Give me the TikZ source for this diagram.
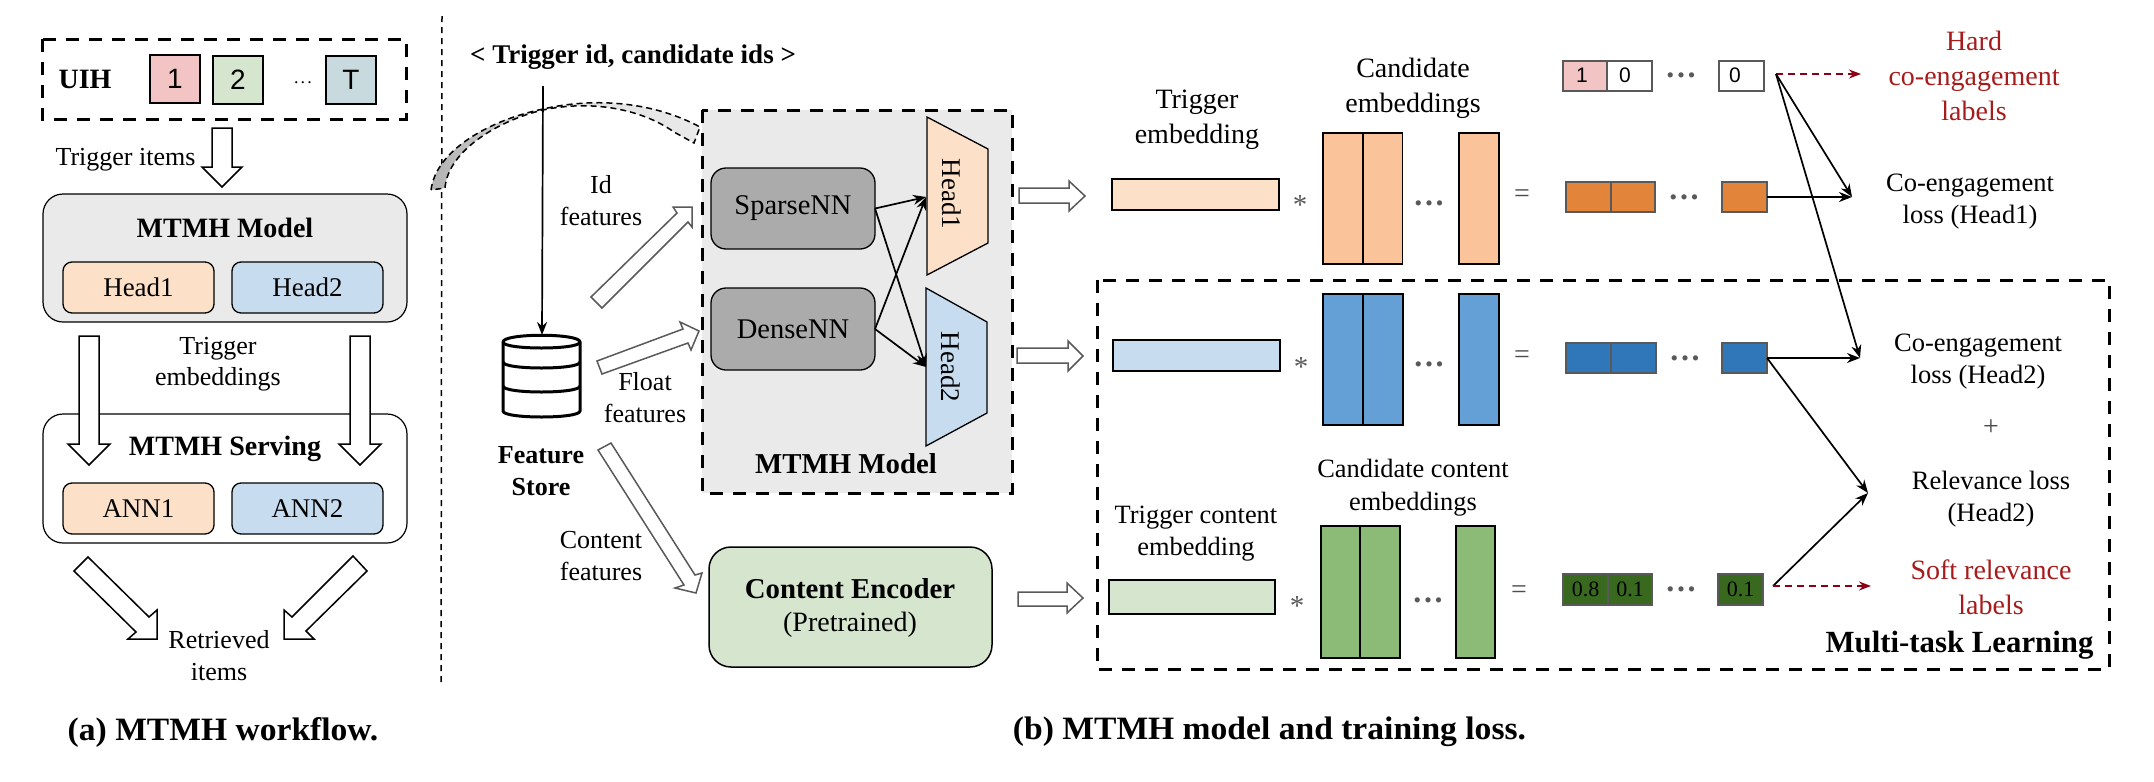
\documentclass[tikz,border=0pt]{standalone}
\usepackage{fontspec}
\setmainfont{Liberation Serif}
\newfontfamily\sansf{Liberation Sans}
\newfontfamily\capf[FakeStretch=1.03]{Liberation Serif}
\usetikzlibrary{arrows.meta,shapes.geometric}
\definecolor{peach}{HTML}{FCE0C8}
\definecolor{lblue}{HTML}{C8DCF0}
\definecolor{lgreen}{HTML}{D5E5CE}
\definecolor{panel}{HTML}{EAEAEA}
\definecolor{nngray}{HTML}{ABABAB}
\definecolor{cpeach}{HTML}{FBC399}
\definecolor{cblue}{HTML}{649FD6}
\definecolor{cgreen}{HTML}{8BBB76}
\definecolor{rorange}{HTML}{E2853B}
\definecolor{rblue}{HTML}{2F77B8}
\definecolor{rgreen}{HTML}{38691F}
\definecolor{lpink}{HTML}{F2C4C4}
\definecolor{lteal}{HTML}{C9DADF}
\definecolor{edge}{HTML}{595959}
\definecolor{redtxt}{HTML}{A61C1C}
\definecolor{redarrow}{HTML}{8B0012}
\newcommand{\fs}[2]{\fontsize{#1pt}{#2pt}\selectfont}
% \cell{name}{x1}{y1}{x2}{y2}{style}{text}
\newcommand{\cell}[7]{\node[#6,minimum width={(#4-#2)*0.5pt},minimum height={(#5-#3)*0.5pt}] (#1) at ({(#2+#4)/2},{(#3+#5)/2}) {#7};}
\newcommand{\threedots}{\textcolor{edge}{\bfseries\fs{16}{16}.\kern1.35pt.\kern1.35pt.}}
\tikzset{
  x=0.5pt,y=-0.5pt,
  every node/.style={inner sep=0pt,outer sep=0pt,align=center},
  bigdash/.style={draw=black,line width=1.5pt,dash pattern=on 6.5pt off 5pt},
  thinline/.style={draw=black,line width=0.85pt,-{Stealth[length=6.5pt,width=5pt]}},
  reddash/.style={draw=redarrow,line width=0.8pt,dash pattern=on 3.5pt off 2.5pt,-{Stealth[length=6pt,width=4.5pt]}},
  blockb/.style={draw=black,fill=white,line width=0.75pt,line join=miter},
  blockg/.style={draw=edge,fill=white,line width=0.75pt,line join=miter},
  model/.style={draw=black,line width=0.6pt,rounded corners=10pt},
  tag/.style={draw=black,line width=0.65pt,rounded corners=4.5pt},
  nn/.style={draw=black,line width=0.65pt,rounded corners=7.5pt,fill=nngray},
  emb/.style={draw=black,line width=0.9pt},
  col/.style={draw=black,line width=0.8pt},
  res/.style={draw=edge,line width=0.8pt},
  lab/.style={font=\fs{13}{16}},
  labb/.style={font=\fs{14}{17.5}},
  boldl/.style={font=\bfseries\fs{14}{16}},
  redl/.style={text=redtxt,font=\fs{14}{17.5}},
  num/.style={font=\sansf\fs{10.5}{12}},
  startext/.style={text=edge,font=\fs{14.5}{14.5}},
  eqtext/.style={text=black!70,font=\fs{14}{14}},
}
\begin{document}
\begin{tikzpicture}
\useasboundingbox (0,0) rectangle (2154,782);
% divider
\coordinate (divtop) at (442,16);
\coordinate (divbot) at (441,684);
\draw[line width=0.75pt,dash pattern=on 3pt off 2.5pt] (divtop) -- (divbot);

% ---------- panel a ----------
\draw[bigdash,fill=white] (42,39) rectangle (406,119);
\node[boldl] (uih) at (85,79) {UIH};
\cell{i1}{150}{55}{200}{103}{draw=black,line width=0.7pt,fill=lpink}{\sansf\fs{14}{16}1}
\cell{i2}{213}{56}{263}{104}{draw=black,line width=0.7pt,fill=lgreen}{\sansf\fs{14}{16}2}
\cell{iT}{326}{56}{376}{104}{draw=black,line width=0.7pt,fill=lteal}{\sansf\fs{14}{16}T}
\node (adots) at (303,83) {\fs{9}{9}.\kern1.1pt.\kern1.1pt.};
\node[lab] (trigitems) at (125.5,160) {Trigger items};
\draw[blockb] (212,128) -- (232,128) -- (232,167) -- (242,167) -- (222,187) -- (202,167) -- (212,167) -- cycle;

\cell{amodel}{43}{194}{407}{322}{model,fill=panel}{}
\node[boldl] (amodelt) at (225,228) {MTMH Model};
\cell{ahead1}{63}{262}{214}{313}{tag,fill=peach}{\fs{13.5}{16}Head1}
\cell{ahead2}{232}{262}{383}{313}{tag,fill=lblue}{\fs{13.5}{16}Head2}
\node[lab,font=\fs{13}{15.5}] (trigemb) at (218,364) {Trigger\\embeddings};
\cell{aserve}{43}{414}{407}{543}{model,fill=white}{}
\draw[blockb] (79,336) -- (99,336) -- (99,444) -- (110,444) -- (89,465) -- (68,444) -- (79,444) -- cycle;
\draw[blockb] (350,336) -- (370,336) -- (370,444) -- (381,444) -- (360,465) -- (339,444) -- (350,444) -- cycle;
\node[boldl] (aservet) at (225,449) {MTMH Serving};
\cell{ann1}{63}{483}{214}{534}{tag,fill=peach}{\fs{13.5}{16}ANN1}
\cell{ann2}{232}{483}{383}{534}{tag,fill=lblue}{\fs{13.5}{16}ANN2}
\draw[blockb] (88,557) -- (149,617) -- (157,610) -- (157,639) -- (128,639) -- (136,632) -- (74,571) -- cycle;
\draw[blockb] (353,556) -- (367,571) -- (306,631) -- (314,639) -- (284,639) -- (284,610) -- (292,617) -- cycle;
\node[lab] (retr) at (219,656) {Retrieved\\items};
\node[font=\capf\bfseries\fs{16.3}{20}] (capa) at (223,732) {(a) MTMH workflow.};

% ---------- panel b left ----------
\node[font=\bfseries\fs{13.5}{16}] (title) at (633,57) {< Trigger id, candidate ids >};
\draw[bigdash,fill=panel] (702,110) rectangle (1012,493);
% curved arrow
\shade[left color=black!30,right color=panel,middle color=black!12,shading angle=90] (431,190) .. controls (436,150) and (490,120) .. (543,109) .. controls (590,98) and (650,100) .. (700,127) -- (694,143) -- (674,132) .. controls (640,108) and (590,100) .. (543,110) .. controls (500,120) and (448,150) .. (445,188) -- cycle;
\draw[line width=0.75pt,dash pattern=on 3pt off 2pt] (431,190) .. controls (436,150) and (490,120) .. (543,109) .. controls (590,98) and (650,100) .. (700,127) -- (694,143) -- (674,132) .. controls (640,108) and (590,100) .. (543,110) .. controls (500,120) and (448,150) .. (445,188) -- cycle;
\coordinate (fsin) at (543,86);
\coordinate (dbtop) at (542,335);
\draw[thinline] (fsin) -- (dbtop);
% database
\draw[line width=1.5pt,fill=white] (503,342) -- (503,411) .. controls (503,419) and (580,419) .. (580,411) -- (580,342) .. controls (580,333) and (503,333) .. (503,342) -- cycle;
\draw[line width=1.5pt] (503,342) .. controls (503,350) and (580,350) .. (580,342);
\draw[line width=1.5pt] (503,362) .. controls (503,370) and (580,370) .. (580,362);
\draw[line width=1.5pt] (503,386) .. controls (503,394) and (580,394) .. (580,386);
\node[font=\bfseries\fs{13}{16}] (fs) at (541,471) {Feature\\Store};
\draw[blockg] (591,297) -- (677,213) -- (673,207) -- (692,207) -- (692,227) -- (688,222) -- (602,308) -- cycle;
\draw[blockg] (597,361) -- (683,329) -- (680,322) -- (699,331) -- (691,350) -- (688,343) -- (602,374) -- cycle;
\draw[blockg] (598,450) -- (684,585) -- (675,588) -- (696,593) -- (702,573) -- (695,575) -- (611,443) -- cycle;
\node[lab] (idf) at (601,201) {Id\\features};
\node[lab] (flf) at (645,397.5) {Float\\features};
\node[lab] (cof) at (601,556) {Content\\features};
\cell{sparse}{711}{168}{875}{249}{nn}{\fs{14.25}{16}SparseNN}
\cell{dense}{711}{288}{875}{370}{nn}{\fs{14.25}{16}DenseNN}
\draw[line width=0.65pt,fill=peach] (927,117) -- (988,149) -- (988,243) -- (927,275) -- cycle;
\draw[line width=0.65pt,fill=lblue] (926,288) -- (987,322) -- (987,413) -- (926,446) -- cycle;
\node[rotate=-90,font=\fs{13.5}{16}] (bh1) at (952,194) {Head1};
\node[rotate=-90,font=\fs{13.5}{16}] (bh2) at (951,367) {Head2};
\coordinate (h1in) at (926,197);
\coordinate (h2in) at (926,367);
\draw[thinline] (sparse.east) -- (h1in);
\draw[thinline] (sparse.east) -- (h2in);
\draw[thinline] (dense.east) -- (h1in);
\draw[thinline] (dense.east) -- (h2in);
\node[font=\bfseries\fs{14.4}{16}] (bmodelt) at (846,464) {MTMH Model};
\cell{encoder}{709}{547}{992}{667}{draw=black,line width=0.75pt,rounded corners=11pt,fill=lgreen}{}
\node[font=\bfseries\fs{14.4}{17}] (enct) at (850,589) {Content Encoder};
\node[font=\fs{14}{17}] (encs) at (850,625) {(Pretrained)};

% row arrows
\draw[blockg] (1019,188) -- (1069,188) -- (1069,181) -- (1085,196) -- (1069,211) -- (1069,203) -- (1019,203) -- cycle;
\draw[blockg] (1017,348) -- (1068,348) -- (1068,341) -- (1083,356) -- (1068,371) -- (1068,363) -- (1017,363) -- cycle;
\draw[blockg] (1018,592) -- (1067,592) -- (1067,583) -- (1083,598) -- (1067,613) -- (1067,606) -- (1018,606) -- cycle;

% multi-task box
\draw[bigdash] (1097,280) rectangle (2109,669);
\node[font=\bfseries\fs{15.4}{18}] (mtl) at (1959.5,645) {Multi-task Learning};

% row 1
\node[labb] (te) at (1197,119.5) {Trigger\\embedding};
\node[labb] (ce) at (1413,88.5) {Candidate\\embeddings};
\cell{t1}{1112}{179}{1279}{210}{emb,fill=peach}{}
\node[startext] (st1) at (1300,205) {*};
\cell{c1a}{1323}{133}{1363}{264}{col,fill=cpeach}{}
\cell{c1b}{1363}{133}{1402.5}{264}{col,fill=cpeach}{}
\node (d1) at (1429,203) {\threedots};
\cell{c1c}{1459}{133}{1499}{264}{col,fill=cpeach}{}
\node[eqtext] (eq1) at (1522,196) {=};
\cell{r1a}{1566}{182}{1611}{212}{res,fill=rorange}{}
\cell{r1b}{1611}{182}{1655}{212}{res,fill=rorange}{}
\node (d2) at (1684,197) {\threedots};
\cell{r1c}{1722}{182}{1767}{212}{res,fill=rorange}{}
% labels
\cell{l1}{1563}{61}{1607}{91}{res,fill=lpink}{}
\cell{l2}{1607}{61}{1652}{91}{res,fill=white}{}
\node (d3) at (1681,75) {\threedots};
\cell{l3}{1719}{61}{1764}{91}{res,fill=white}{}
\node[num] (l1t) at (1582,75) {1};
\node[num] (l2t) at (1625,75) {0};
\node[num] (l3t) at (1735,75) {0};
\node[redl] (hard) at (1974,75.5) {Hard\\co-engagement\\labels};
\node[font=\fs{13.25}{16}] (loss1) at (1970,202) {Co-engagement\\loss (Head1)};
\coordinate (labout) at (1776,74);
\coordinate (hardin) at (1861,74);
\coordinate (loss1in) at (1852,197);
\coordinate (loss2in) at (1860,358);
\coordinate (relin) at (1868,493);
\coordinate (softin) at (1871,586);
\coordinate (softout) at (1773,586);
\draw[reddash] (labout) -- (hardin);

% row 2
\cell{t2}{1113}{340}{1280}{371}{emb,fill=lblue}{}
\node[startext] (st2) at (1301,367) {*};
\cell{c2a}{1323}{294}{1363}{425}{col,fill=cblue}{}
\cell{c2b}{1363}{294}{1403}{425}{col,fill=cblue}{}
\node (d4) at (1429,364) {\threedots};
\cell{c2c}{1459}{294}{1499}{425}{col,fill=cblue}{}
\node[eqtext] (eq2) at (1522,357) {=};
\cell{r2a}{1566}{343}{1611}{373}{res,fill=rblue}{}
\cell{r2b}{1611}{343}{1656}{373}{res,fill=rblue}{}
\node (d5) at (1685,358) {\threedots};
\cell{r2c}{1722}{343}{1767}{373}{res,fill=rblue}{}
\node[font=\fs{13.25}{16}] (loss2) at (1978,362) {Co-engagement\\loss (Head2)};
\node[eqtext] (plus) at (1991,428) {+};
\node[font=\fs{13.25}{16}] (rel) at (1991,499) {Relevance loss\\(Head2)};
\node[redl] (soft) at (1991,587.5) {Soft relevance\\labels};

% row 3
\node[font=\fs{13.2}{16}] (tce) at (1196,534) {Trigger content\\embedding};
\node[font=\fs{13.2}{16.5}] (cce) at (1413,487.5) {Candidate content\\embeddings};
\cell{t3}{1109}{580}{1275}{614}{emb,fill=lgreen}{}
\node[startext] (st3) at (1297,606) {*};
\cell{c3a}{1321}{526}{1360}{658}{col,fill=cgreen}{}
\cell{c3b}{1360}{526}{1400}{658}{col,fill=cgreen}{}
\node (d6) at (1428,600) {\threedots};
\cell{c3c}{1456}{526}{1495}{658}{col,fill=cgreen}{}
\node[eqtext] (eq3) at (1519,592) {=};
\cell{r3a}{1563}{574}{1608}{605}{res,fill=rgreen}{\fs{11}{12}0.8}
\cell{r3b}{1608}{574}{1652}{605}{res,fill=rgreen}{\fs{11}{12}0.1}
\node (d7) at (1681,589) {\threedots};
\cell{r3c}{1718}{574}{1763}{605}{res,fill=rgreen}{\fs{11}{12}0.1}

% loss connectors
\draw[thinline] (labout) -- (loss1in);
\draw[thinline] (labout) -- (loss2in);
\draw[thinline] (r1c.east) -- (loss1in);
\draw[thinline] (r2c.east) -- (loss2in);
\draw[thinline] (r2c.east) -- (relin);
\draw[thinline] (softout) -- (relin);
\draw[reddash] (softout) -- (softin);

\node[font=\capf\bfseries\fs{16.3}{20}] (capb) at (1269.5,732) {(b) MTMH model and training loss.};
\end{tikzpicture}
\end{document}
